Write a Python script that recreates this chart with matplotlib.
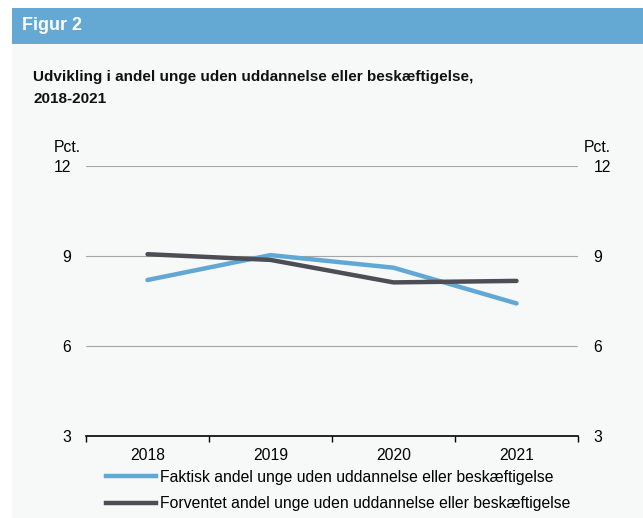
import matplotlib
matplotlib.use("Agg")
import matplotlib.pyplot as plt
from matplotlib.patches import Rectangle
from matplotlib.lines import Line2D

plt.rcParams['font.family'] = ['Liberation Sans', 'DejaVu Sans']

years = ["2018", "2019", "2020", "2021"]
faktisk = [8.2, 9.03, 8.61, 7.42]
forventet = [9.06, 8.87, 8.12, 8.17]
yticks = [3, 6, 9, 12]
label_faktisk = "Faktisk andel unge uden uddannelse eller beskæftigelse"
label_forventet = "Forventet andel unge uden uddannelse eller beskæftigelse"

W, H = 643, 518
fig = plt.figure(figsize=(W / 100, H / 100), dpi=100)
fig.patch.set_facecolor("white")

def fx(px):
    return px / W

def fy(py):
    return 1 - py / H

# panel background
fig.patches.append(Rectangle((fx(12), 0), 1 - fx(12), fy(44), transform=fig.transFigure,
                             facecolor="#f7f8f8", edgecolor="none", zorder=-10))
# header band
fig.patches.append(Rectangle((fx(12), fy(44)), 1 - fx(12), fy(8) - fy(44), transform=fig.transFigure,
                             facecolor="#63a9d4", edgecolor="none", zorder=-10))
fig.text(fx(22), fy(26), "Figur 2", color="white", fontsize=13, fontweight="bold", va="center", ha="left")
fig.text(fx(33), fy(88), "Udvikling i andel unge uden uddannelse eller beskæftigelse,\n2018-2021",
         color="#111111", fontsize=11, fontweight="bold", va="center", ha="left", linespacing=1.75)

blue = "#62a8d5"
dark = "#4d4e55"
fs = 11.3

ax = fig.add_axes([fx(86), fy(436), fx(578) - fx(86), fy(166) - fy(436)])
ax.set_facecolor("none")
x = list(range(len(years)))
ax.plot(x, faktisk, color=blue, lw=3.2, solid_capstyle="round", zorder=3)
ax.plot(x, forventet, color=dark, lw=3.2, solid_capstyle="round", zorder=4)

ax.set_xlim(-0.5, len(years) - 0.5)
ax.set_ylim(3, 12)
ax.set_yticks(yticks)
for t in yticks[1:]:
    ax.axhline(t, color="#a6a6a6", lw=0.8, zorder=1)
ax.set_xticks([i - 0.5 for i in range(len(years) + 1)])
ax.set_xticklabels([])
ax.set_xticks(x, minor=True)
ax.set_xticklabels(years, minor=True, fontsize=fs)
ax.tick_params(axis="x", which="minor", length=0, pad=8.5)
ax.tick_params(axis="x", which="major", length=4, width=1, direction="out", color="black")
ax.tick_params(axis="y", length=0, labelsize=fs, pad=11, left=False, labelleft=True,
               right=False, labelright=True)
for s in ["top", "left", "right"]:
    ax.spines[s].set_visible(False)
ax.spines["bottom"].set_color("black")
ax.spines["bottom"].set_linewidth(1.2)

fig.text(fx(54), fy(147), "Pct.", fontsize=fs, ha="left", va="center")
fig.text(fx(611), fy(147), "Pct.", fontsize=fs, ha="right", va="center")

handles = [Line2D([], [], color=blue, lw=3.2), Line2D([], [], color=dark, lw=3.2)]
fig.legend(handles, [label_faktisk, label_forventet], loc="upper left",
           bbox_to_anchor=(fx(98), fy(462)), frameon=False, fontsize=fs,
           handlelength=3.2, handletextpad=0.25, labelspacing=0.72, borderpad=0)

fig.savefig("out.png", dpi=100, facecolor=fig.get_facecolor())
